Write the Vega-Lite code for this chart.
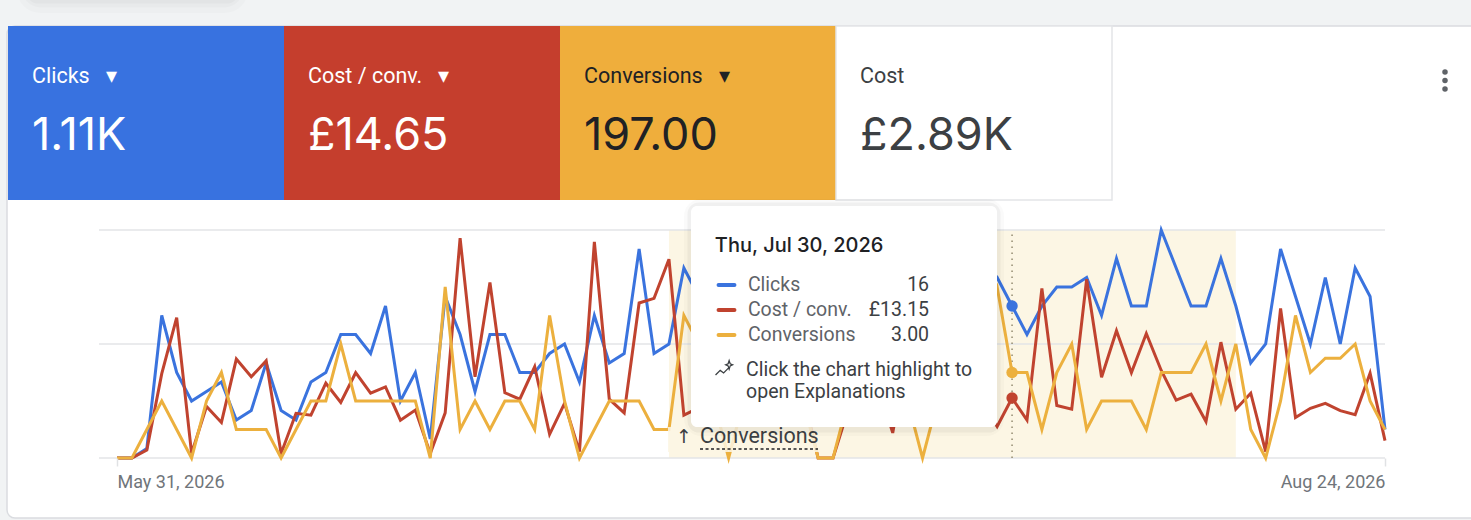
{
  "$schema": "https://vega.github.io/schema/vega-lite/v6.json",
  "width": 1471,
  "height": 520,
  "padding": 0,
  "autosize": "none",
  "background": "#f1f3f4",
  "config": {
    "view": {"stroke": null},
    "text": {"font": "Roboto"}
  },
  "datasets": {
    "daily": [
      {"date": "2026-05-31", "clicks": 0, "cost_conv": 0, "conversions": 0},
      {"date": "2026-06-01", "clicks": 0, "cost_conv": 0, "conversions": 0},
      {"date": "2026-06-02", "clicks": 1, "cost_conv": 1.75, "conversions": 1},
      {"date": "2026-06-03", "clicks": 15, "cost_conv": 18.5, "conversions": 2},
      {"date": "2026-06-04", "clicks": 9, "cost_conv": 30.8, "conversions": 1},
      {"date": "2026-06-05", "clicks": 6, "cost_conv": 1, "conversions": 0},
      {"date": "2026-06-06", "clicks": 7, "cost_conv": 11.3, "conversions": 2},
      {"date": "2026-06-07", "clicks": 8, "cost_conv": 7.8, "conversions": 3},
      {"date": "2026-06-08", "clicks": 4, "cost_conv": 21.7, "conversions": 1},
      {"date": "2026-06-09", "clicks": 5, "cost_conv": 17.8, "conversions": 1},
      {"date": "2026-06-10", "clicks": 10, "cost_conv": 21.3, "conversions": 1},
      {"date": "2026-06-11", "clicks": 5, "cost_conv": 1, "conversions": 0},
      {"date": "2026-06-12", "clicks": 4, "cost_conv": 9.8, "conversions": 1},
      {"date": "2026-06-13", "clicks": 8, "cost_conv": 9.4, "conversions": 2},
      {"date": "2026-06-14", "clicks": 9, "cost_conv": 16.4, "conversions": 2},
      {"date": "2026-06-15", "clicks": 13, "cost_conv": 12.2, "conversions": 4},
      {"date": "2026-06-16", "clicks": 13, "cost_conv": 18.7, "conversions": 2},
      {"date": "2026-06-17", "clicks": 11, "cost_conv": 14.2, "conversions": 2},
      {"date": "2026-06-18", "clicks": 16, "cost_conv": 15.6, "conversions": 2},
      {"date": "2026-06-19", "clicks": 6, "cost_conv": 8.3, "conversions": 2},
      {"date": "2026-06-20", "clicks": 9, "cost_conv": 10.5, "conversions": 2},
      {"date": "2026-06-21", "clicks": 2, "cost_conv": 1, "conversions": 0},
      {"date": "2026-06-22", "clicks": 17, "cost_conv": 9.9, "conversions": 6},
      {"date": "2026-06-23", "clicks": 13, "cost_conv": 48.2, "conversions": 1},
      {"date": "2026-06-24", "clicks": 7, "cost_conv": 17.8, "conversions": 2},
      {"date": "2026-06-25", "clicks": 13, "cost_conv": 38.5, "conversions": 1},
      {"date": "2026-06-26", "clicks": 13, "cost_conv": 14.3, "conversions": 2},
      {"date": "2026-06-27", "clicks": 9, "cost_conv": 12.9, "conversions": 2},
      {"date": "2026-06-28", "clicks": 9, "cost_conv": 20, "conversions": 1},
      {"date": "2026-06-29", "clicks": 11, "cost_conv": 5.2, "conversions": 5},
      {"date": "2026-06-30", "clicks": 12, "cost_conv": 12, "conversions": 2},
      {"date": "2026-07-01", "clicks": 8, "cost_conv": 1.4, "conversions": 0},
      {"date": "2026-07-02", "clicks": 15, "cost_conv": 47.4, "conversions": 1},
      {"date": "2026-07-03", "clicks": 10, "cost_conv": 12.9, "conversions": 2},
      {"date": "2026-07-04", "clicks": 11, "cost_conv": 9.9, "conversions": 2},
      {"date": "2026-07-05", "clicks": 22, "cost_conv": 34, "conversions": 2},
      {"date": "2026-07-06", "clicks": 11, "cost_conv": 35, "conversions": 1},
      {"date": "2026-07-07", "clicks": 12, "cost_conv": 43.6, "conversions": 1},
      {"date": "2026-07-08", "clicks": 20, "cost_conv": 9.4, "conversions": 5},
      {"date": "2026-07-09", "clicks": 17, "cost_conv": 11, "conversions": 4},
      {"date": "2026-07-10", "clicks": 14, "cost_conv": 30, "conversions": 2},
      {"date": "2026-07-11", "clicks": 16, "cost_conv": 22, "conversions": 0},
      {"date": "2026-07-12", "clicks": 18, "cost_conv": 15, "conversions": 2},
      {"date": "2026-07-13", "clicks": 13, "cost_conv": 26, "conversions": 3},
      {"date": "2026-07-14", "clicks": 15, "cost_conv": 18, "conversions": 2},
      {"date": "2026-07-15", "clicks": 17, "cost_conv": 33, "conversions": 3},
      {"date": "2026-07-16", "clicks": 14, "cost_conv": 14, "conversions": 2},
      {"date": "2026-07-17", "clicks": 12, "cost_conv": 0, "conversions": 0},
      {"date": "2026-07-18", "clicks": 10, "cost_conv": 0, "conversions": 0},
      {"date": "2026-07-19", "clicks": 15, "cost_conv": 10.5, "conversions": 2},
      {"date": "2026-07-20", "clicks": 16, "cost_conv": 32, "conversions": 3},
      {"date": "2026-07-21", "clicks": 18, "cost_conv": 16, "conversions": 2},
      {"date": "2026-07-22", "clicks": 14, "cost_conv": 5.5, "conversions": 3},
      {"date": "2026-07-23", "clicks": 16, "cost_conv": 24, "conversions": 2},
      {"date": "2026-07-24", "clicks": 12, "cost_conv": 15, "conversions": 0},
      {"date": "2026-07-25", "clicks": 14, "cost_conv": 30, "conversions": 2},
      {"date": "2026-07-26", "clicks": 17, "cost_conv": 20, "conversions": 3},
      {"date": "2026-07-27", "clicks": 15, "cost_conv": 28, "conversions": 4},
      {"date": "2026-07-28", "clicks": 18, "cost_conv": 12, "conversions": 5},
      {"date": "2026-07-29", "clicks": 19, "cost_conv": 6.9, "conversions": 6},
      {"date": "2026-07-30", "clicks": 16, "cost_conv": 13.15, "conversions": 3},
      {"date": "2026-07-31", "clicks": 13, "cost_conv": 8.3, "conversions": 3},
      {"date": "2026-08-01", "clicks": 16, "cost_conv": 37.2, "conversions": 1},
      {"date": "2026-08-02", "clicks": 18, "cost_conv": 11.5, "conversions": 3},
      {"date": "2026-08-03", "clicks": 18, "cost_conv": 10.7, "conversions": 4},
      {"date": "2026-08-04", "clicks": 19, "cost_conv": 39.2, "conversions": 1},
      {"date": "2026-08-05", "clicks": 15, "cost_conv": 17.7, "conversions": 2},
      {"date": "2026-08-06", "clicks": 21, "cost_conv": 27.9, "conversions": 2},
      {"date": "2026-08-07", "clicks": 16, "cost_conv": 18.7, "conversions": 2},
      {"date": "2026-08-08", "clicks": 16, "cost_conv": 27.3, "conversions": 1},
      {"date": "2026-08-09", "clicks": 24, "cost_conv": 19.2, "conversions": 3},
      {"date": "2026-08-10", "clicks": 20, "cost_conv": 12.7, "conversions": 3},
      {"date": "2026-08-11", "clicks": 16, "cost_conv": 14, "conversions": 3},
      {"date": "2026-08-12", "clicks": 16, "cost_conv": 8, "conversions": 4},
      {"date": "2026-08-13", "clicks": 21, "cost_conv": 25.4, "conversions": 2},
      {"date": "2026-08-14", "clicks": 16, "cost_conv": 10.7, "conversions": 4},
      {"date": "2026-08-15", "clicks": 10, "cost_conv": 14.2, "conversions": 1},
      {"date": "2026-08-16", "clicks": 12, "cost_conv": 1.4, "conversions": 0},
      {"date": "2026-08-17", "clicks": 22, "cost_conv": 32.8, "conversions": 2},
      {"date": "2026-08-18", "clicks": 17, "cost_conv": 8.9, "conversions": 5},
      {"date": "2026-08-19", "clicks": 12, "cost_conv": 10.9, "conversions": 3},
      {"date": "2026-08-20", "clicks": 19, "cost_conv": 12, "conversions": 3.5},
      {"date": "2026-08-21", "clicks": 12, "cost_conv": 10.4, "conversions": 3.5},
      {"date": "2026-08-22", "clicks": 20, "cost_conv": 9.5, "conversions": 4},
      {"date": "2026-08-23", "clicks": 17, "cost_conv": 18.6, "conversions": 2},
      {"date": "2026-08-24", "clicks": 3, "cost_conv": 3.8, "conversions": 1}
    ],
    "hovered": [
      {"date": "2026-07-30", "clicks": 16, "cost_conv": 13.15, "conversions": 3}
    ],
    "highlight": [
      {"date": "2026-07-07", "end": "2026-08-14"}
    ],
    "gridlines": [
      {"date": "2026-05-29T19:00:00Z", "end": "2026-08-24", "level": 0},
      {"date": "2026-05-29T19:00:00Z", "end": "2026-08-24", "level": 0.5},
      {"date": "2026-05-29T19:00:00Z", "end": "2026-08-24", "level": 1}
    ],
    "tiles": [
      {"metric": "Clicks", "heading": "Clicks\u00A0\u00A0\u00A0\u25BE", "total": "1.11K"},
      {"metric": "Cost / conv.", "heading": "Cost / conv.\u00A0\u00A0\u00A0\u25BE", "total": "\u00A314.65"},
      {"metric": "Conversions", "heading": "Conversions\u00A0\u00A0\u00A0\u25BE", "total": "197.00"},
      {"metric": "Cost", "heading": "Cost", "total": "\u00A32.89K"}
    ],
    "readout": [
      {"row": 1, "metric": "Clicks", "value": "16"},
      {"row": 2, "metric": "Cost / conv.", "value": "\u00A313.15"},
      {"row": 3, "metric": "Conversions", "value": "3.00"}
    ],
    "kebab": [{"dot": 1}, {"dot": 2}, {"dot": 3}],
    "note": [
      {"lines": ["Click the chart highlight to", "open Explanations"]}
    ]
  },
  "resolve": {"scale": {"x": "independent", "y": "independent", "color": "independent"}},
  "layer": [
    {
      "data": {"values": [{}]},
      "encoding": {
        "x": {"datum": 0, "type": "quantitative", "axis": null, "scale": {"domain": [0, 1], "range": [30, 235]}},
        "x2": {"datum": 1},
        "y": {"datum": 0, "type": "quantitative", "axis": null, "scale": {"domain": [0, 1], "range": [0, -20]}},
        "y2": {"datum": 1}
      },
      "layer": [
        {"mark": {"type": "rect", "fill": null, "stroke": "#000000", "strokeOpacity": 0.015, "strokeWidth": 26, "cornerRadius": 12}},
        {"mark": {"type": "rect", "fill": null, "stroke": "#000000", "strokeOpacity": 0.02, "strokeWidth": 15, "cornerRadius": 12}},
        {"mark": {"type": "rect", "fill": null, "stroke": "#000000", "strokeOpacity": 0.025, "strokeWidth": 7, "cornerRadius": 8}}
      ]
    },
    {
      "data": {"values": [{}]},
      "mark": {"type": "rect", "fill": "#ffffff", "stroke": "#dadce0", "strokeWidth": 1.5, "cornerRadius": 8},
      "encoding": {
        "x": {"datum": 0, "type": "quantitative", "axis": null, "scale": {"domain": [0, 1], "range": [7, 1480]}},
        "x2": {"datum": 1},
        "y": {"datum": 0, "type": "quantitative", "axis": null, "scale": {"domain": [0, 1], "range": [518, 26]}},
        "y2": {"datum": 1}
      }
    },
    {
      "data": {"name": "tiles"},
      "encoding": {
        "x": {
          "field": "metric",
          "type": "nominal",
          "sort": null,
          "bandPosition": 0,
          "axis": null,
          "scale": {"range": [8, 1112], "paddingInner": 0, "paddingOuter": 0}
        },
        "y": {"datum": 0, "type": "quantitative", "axis": null, "scale": {"domain": [0, 1], "range": [200, 26]}}
      },
      "resolve": {"scale": {"color": "independent"}},
      "layer": [
        {
          "mark": {"type": "rect"},
          "encoding": {
            "x": {"field": "metric", "type": "nominal", "sort": null},
            "y2": {"datum": 1},
            "fill": {
              "field": "metric",
              "type": "nominal",
              "legend": null,
              "scale": {
                "domain": ["Clicks", "Cost / conv.", "Conversions", "Cost"],
                "range": ["#3872e0", "#c53e2d", "#efae3c", "#ffffff"]
              }
            }
          }
        },
        {
          "transform": [{"filter": "datum.metric === 'Cost'"}],
          "mark": {"type": "rect", "fill": null, "stroke": "#e3e5e8", "strokeWidth": 1.5},
          "encoding": {
            "x": {"field": "metric", "type": "nominal", "sort": null},
            "y2": {"datum": 1}
          }
        },
        {
          "mark": {"type": "text", "align": "left", "baseline": "middle", "dx": 24, "fontSize": 21.5, "font": "Roboto"},
          "encoding": {
            "y": {"datum": 0.707, "type": "quantitative"},
            "text": {"field": "heading"},
            "color": {
              "field": "metric",
              "type": "nominal",
              "legend": null,
              "scale": {
                "domain": ["Clicks", "Cost / conv.", "Conversions", "Cost"],
                "range": ["#ffffff", "#ffffff", "#202124", "#3c4043"]
              }
            }
          }
        },
        {
          "mark": {"type": "text", "align": "left", "baseline": "middle", "dx": 24, "fontSize": 45, "font": "Inter"},
          "encoding": {
            "y": {"datum": 0.37, "type": "quantitative"},
            "text": {"field": "total"},
            "color": {
              "field": "metric",
              "type": "nominal",
              "legend": null,
              "scale": {
                "domain": ["Clicks", "Cost / conv.", "Conversions", "Cost"],
                "range": ["#ffffff", "#ffffff", "#202124", "#3c4043"]
              }
            }
          }
        }
      ]
    },
    {
      "data": {"name": "kebab"},
      "mark": {"type": "point", "shape": "circle", "filled": true, "color": "#5f6368", "opacity": 1, "size": 30},
      "encoding": {
        "x": {"datum": 0, "type": "quantitative", "axis": null, "scale": {"domain": [0, 1], "range": [1445, 1446]}},
        "y": {"field": "dot", "type": "quantitative", "axis": null, "scale": {"domain": [1, 3], "range": [72, 89]}}
      }
    },
    {
      "data": {"name": "daily"},
      "encoding": {
        "x": {
          "field": "date",
          "type": "temporal",
          "scale": {"type": "utc", "domain": ["2026-05-31", "2026-08-24"], "range": [117, 1385]},
          "axis": {
            "title": null,
            "orient": "bottom",
            "offset": -62,
            "zindex": 1,
            "domain": false,
            "grid": false,
            "values": [1780185600000, 1787529600000],
            "format": "%b %-d, %Y",
            "labelFlush": true,
            "labelFont": "Roboto",
            "labelFontSize": 18,
            "labelColor": "#70757a",
            "labelPadding": 7,
            "tickColor": "#e0e2e4",
            "tickSize": 8,
            "tickWidth": 1.5
          }
        }
      },
      "resolve": {"scale": {"y": "independent"}},
      "layer": [
        {
          "data": {"name": "highlight"},
          "mark": {"type": "rect", "fill": "#fcf6e4"},
          "encoding": {
            "x2": {"field": "end"},
            "y": {"datum": 0, "type": "quantitative", "axis": null, "scale": {"domain": [0, 1], "range": [458, 230]}},
            "y2": {"datum": 1}
          }
        },
        {
          "data": {"name": "gridlines"},
          "mark": {"type": "rule", "stroke": "#e3e5e7", "strokeWidth": 1.6},
          "encoding": {
            "x2": {"field": "end"},
            "y": {"field": "level", "type": "quantitative", "axis": null, "scale": {"domain": [0, 1], "range": [458, 230]}}
          }
        },
        {
          "data": {"name": "hovered"},
          "mark": {"type": "rule", "stroke": "#8c8468", "strokeWidth": 1.4, "strokeDash": [1.5, 4.5]},
          "encoding": {
            "y": {"datum": 0, "type": "quantitative", "axis": null, "scale": {"domain": [0, 1], "range": [458, 230]}},
            "y2": {"datum": 1}
          }
        },
        {
          "mark": {"type": "line", "stroke": "#3a73de", "strokeWidth": 3, "strokeJoin": "miter"},
          "encoding": {
            "y": {"field": "clicks", "type": "quantitative", "axis": null, "scale": {"domain": [0, 24], "range": [458, 230]}}
          }
        },
        {
          "mark": {"type": "line", "stroke": "#c0432f", "strokeWidth": 3, "strokeJoin": "miter"},
          "encoding": {
            "y": {"field": "cost_conv", "type": "quantitative", "axis": null, "scale": {"domain": [0, 50], "range": [458, 230]}}
          }
        },
        {
          "mark": {"type": "line", "stroke": "#ecb03e", "strokeWidth": 3, "strokeJoin": "miter"},
          "encoding": {
            "y": {"field": "conversions", "type": "quantitative", "axis": null, "scale": {"domain": [0, 8], "range": [458, 230]}}
          }
        },
        {
          "data": {"name": "hovered"},
          "mark": {"type": "point", "filled": true, "opacity": 1, "size": 130, "color": "#3a73de"},
          "encoding": {
            "y": {"field": "clicks", "type": "quantitative", "axis": null, "scale": {"domain": [0, 24], "range": [458, 230]}}
          }
        },
        {
          "data": {"name": "hovered"},
          "mark": {"type": "point", "filled": true, "opacity": 1, "size": 130, "color": "#c0432f"},
          "encoding": {
            "y": {"field": "cost_conv", "type": "quantitative", "axis": null, "scale": {"domain": [0, 50], "range": [458, 230]}}
          }
        },
        {
          "data": {"name": "hovered"},
          "mark": {"type": "point", "filled": true, "opacity": 1, "size": 130, "color": "#ecb03e"},
          "encoding": {
            "y": {"field": "conversions", "type": "quantitative", "axis": null, "scale": {"domain": [0, 8], "range": [458, 230]}}
          }
        }
      ]
    },
    {
      "data": {"values": [{}]},
      "encoding": {
        "x": {"datum": 0, "type": "quantitative", "axis": null, "scale": {"domain": [0, 1], "range": [668, 822]}},
        "y": {"datum": 0, "type": "quantitative", "axis": null, "scale": {"domain": [0, 1], "range": [452, 427]}}
      },
      "layer": [
        {
          "mark": {"type": "rect", "fill": "#fcf6e4", "fillOpacity": 0.85},
          "encoding": {"x2": {"datum": 1}, "y2": {"datum": 1}}
        },
        {
          "mark": {"type": "text", "text": "\u2191", "align": "center", "baseline": "middle", "fontSize": 19, "color": "#3c4043", "font": "DejaVu Sans"},
          "encoding": {"x": {"datum": 0.104, "type": "quantitative"}, "y": {"datum": 0.6, "type": "quantitative"}}
        },
        {
          "mark": {"type": "text", "text": "Conversions", "align": "left", "baseline": "middle", "fontSize": 21.5, "color": "#3c4043"},
          "encoding": {"x": {"datum": 0.208, "type": "quantitative"}, "y": {"datum": 0.6, "type": "quantitative"}}
        },
        {
          "mark": {"type": "rule", "stroke": "#202124", "strokeWidth": 1.5, "strokeDash": [3, 2.5]},
          "encoding": {
            "x": {"datum": 0.208, "type": "quantitative"},
            "x2": {"datum": 0.974},
            "y": {"datum": 0.12, "type": "quantitative"}
          }
        }
      ]
    },
    {
      "data": {"values": [{}]},
      "encoding": {
        "x": {"datum": 0, "type": "quantitative", "axis": null, "scale": {"domain": [0, 1], "range": [691, 997]}}
      },
      "resolve": {"scale": {"y": "independent"}},
      "layer": [
        {
          "mark": {"type": "rect", "fill": null, "stroke": "#000000", "strokeOpacity": 0.02, "strokeWidth": 14, "cornerRadius": 10, "yOffset": 2},
          "encoding": {
            "x2": {"datum": 1},
            "y": {"datum": 0, "type": "quantitative", "axis": null, "scale": {"domain": [0, 1], "range": [427, 206]}},
            "y2": {"datum": 1}
          }
        },
        {
          "mark": {"type": "rect", "fill": null, "stroke": "#000000", "strokeOpacity": 0.04, "strokeWidth": 7, "cornerRadius": 8, "yOffset": 2},
          "encoding": {
            "x2": {"datum": 1},
            "y": {"datum": 0, "type": "quantitative", "axis": null, "scale": {"domain": [0, 1], "range": [427, 206]}},
            "y2": {"datum": 1}
          }
        },
        {
          "mark": {"type": "rect", "fill": "#ffffff", "cornerRadius": 6},
          "encoding": {
            "x2": {"datum": 1},
            "y": {"datum": 0, "type": "quantitative", "axis": null, "scale": {"domain": [0, 1], "range": [427, 206]}},
            "y2": {"datum": 1}
          }
        },
        {
          "mark": {"type": "text", "text": "Thu, Jul 30, 2026", "align": "left", "baseline": "middle", "fontSize": 20, "fontWeight": 500, "color": "#202124", "font": "Inter"},
          "encoding": {
            "x": {"datum": 0.078, "type": "quantitative"},
            "y": {"datum": 0.82, "type": "quantitative", "axis": null, "scale": {"domain": [0, 1], "range": [427, 206]}}
          }
        },
        {
          "data": {"name": "readout"},
          "mark": {"type": "rule", "strokeWidth": 4, "strokeCap": "round"},
          "encoding": {
            "x": {"datum": 0.09, "type": "quantitative"},
            "x2": {"datum": 0.142},
            "y": {"field": "row", "type": "quantitative", "axis": null, "scale": {"domain": [1, 3], "range": [285, 335]}},
            "color": {
              "field": "metric",
              "type": "nominal",
              "legend": null,
              "scale": {
                "domain": ["Clicks", "Cost / conv.", "Conversions"],
                "range": ["#3a73de", "#c0432f", "#ecb03e"]
              }
            }
          }
        },
        {
          "data": {"name": "readout"},
          "mark": {"type": "text", "align": "left", "baseline": "middle", "fontSize": 19.5, "color": "#5f6368"},
          "encoding": {
            "x": {"datum": 0.186, "type": "quantitative"},
            "y": {"field": "row", "type": "quantitative", "axis": null, "scale": {"domain": [1, 3], "range": [285, 335]}},
            "text": {"field": "metric"}
          }
        },
        {
          "data": {"name": "readout"},
          "mark": {"type": "text", "align": "right", "baseline": "middle", "fontSize": 19.5, "color": "#3c4043"},
          "encoding": {
            "x": {"datum": 0.778, "type": "quantitative"},
            "y": {"field": "row", "type": "quantitative", "axis": null, "scale": {"domain": [1, 3], "range": [285, 335]}},
            "text": {"field": "value"}
          }
        },
        {
          "mark": {
            "type": "point",
            "shape": "M-1 0.7L-0.45 0.15L-0.05 0.45L0.6 -0.2M0.6 -1L0.72 -0.62L1 -0.5L0.72 -0.38L0.6 0L0.48 -0.38L0.2 -0.5L0.48 -0.62Z",
            "size": 290,
            "filled": false,
            "stroke": "#3c4043",
            "strokeWidth": 1.3,
            "opacity": 1
          },
          "encoding": {
            "x": {"datum": 0.108, "type": "quantitative"},
            "y": {"datum": 0.262, "type": "quantitative", "axis": null, "scale": {"domain": [0, 1], "range": [427, 206]}}
          }
        },
        {
          "data": {"name": "note"},
          "mark": {"type": "text", "align": "left", "baseline": "middle", "fontSize": 19.5, "lineHeight": 22.5, "color": "#3c4043"},
          "encoding": {
            "x": {"datum": 0.18, "type": "quantitative"},
            "y": {"datum": 0.258, "type": "quantitative", "axis": null, "scale": {"domain": [0, 1], "range": [427, 206]}},
            "text": {"field": "lines"}
          }
        }
      ]
    }
  ]
}
